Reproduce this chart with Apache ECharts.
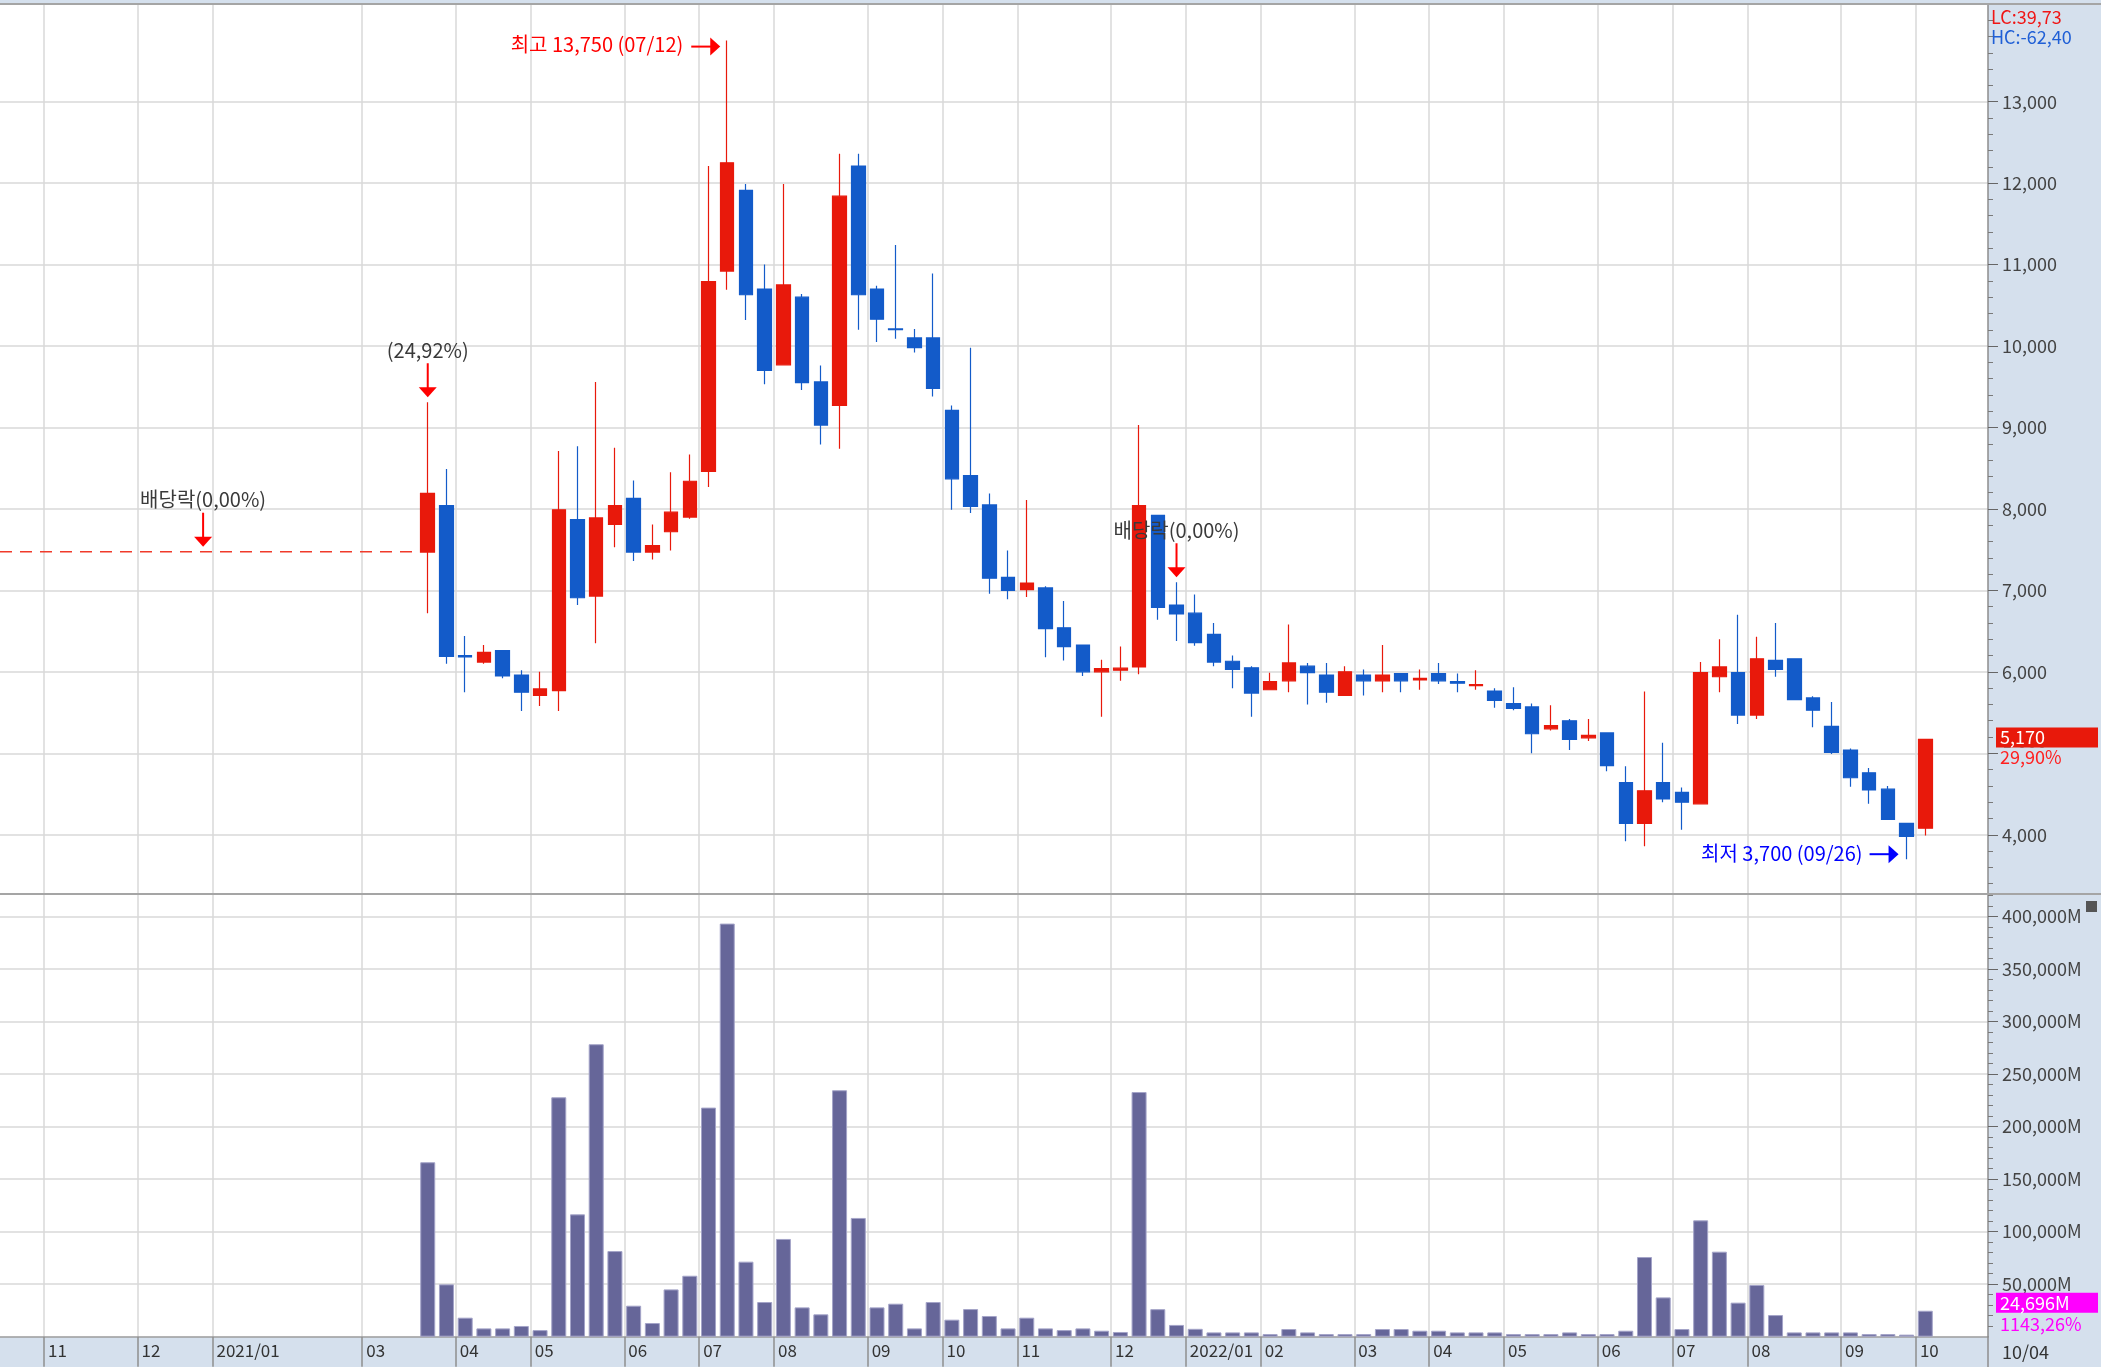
<!DOCTYPE html>
<html><head><meta charset="utf-8">
<script src="https://cdn.jsdelivr.net/npm/echarts@6/dist/echarts.min.js"></script>
<style>html,body{margin:0;padding:0;background:#d5e0ed;overflow:hidden}#c{width:2101px;height:1367px}</style>
</head><body><div id="c"></div>
<script>
// ---------- DATA (weekly candles; week index counted from Monday 2020-11-02) ----------
const firstWeek = 20;               // 2021-03-22
const opens  = [7470,8040,6200,6120,6260,5960,5710,5770,7870,6930,7810,8130,7470,7720,7900,8460,10920,11910,10700,9770,10600,9560,9270,12210,10700,10210,10100,10100,9210,8410,8050,7160,7010,7030,6540,6330,6000,6020,6060,7920,6820,6720,6460,6130,6050,5780,5890,6070,5960,5710,5960,5890,5980,5900,5980,5880,5830,5765,5610,5570,5300,5400,5190,5250,4640,4140,4640,4520,4380,5940,5990,5470,6140,6160,5680,5330,5040,4760,4560,4140,4080];
const closes = [8190,6190,6185,6240,5950,5750,5790,7990,6910,7890,8040,7470,7550,7960,8340,10790,12250,10630,9700,10750,9550,9030,11840,10630,10330,10200,9980,9480,8370,8030,7150,7000,7090,6530,6310,6000,6040,6045,8040,6790,6710,6360,6120,6030,5740,5880,6110,5990,5750,6000,5890,5960,5890,5920,5890,5860,5845,5650,5550,5240,5340,5170,5220,4850,4140,4540,4440,4400,5990,6060,5470,6160,6030,5660,5530,5010,4700,4550,4190,3980,5170];
const lows   = [6720,6100,5750,6100,5920,5520,5580,5520,6820,6350,7530,7360,7380,7490,7880,8270,10690,10320,9530,9770,9460,8790,8740,10200,10050,10090,9920,9380,7990,7950,6960,6890,6920,6180,6140,5950,5450,5890,5970,6640,6380,6320,6070,5800,5450,5780,5750,5600,5620,5710,5710,5750,5750,5780,5850,5750,5780,5560,5530,5000,5280,5040,5150,4780,3920,3860,4400,4060,4380,5750,5360,5420,5940,5660,5320,4990,4590,4380,4190,3700,3990];
const highs  = [9310,8490,6440,6330,6260,6020,6000,8710,8770,9560,8750,8350,7810,8450,8670,12210,13750,11990,11000,11990,10640,9760,12360,12360,10740,11240,10210,10890,9270,9980,8190,7490,8110,7050,6870,6330,6150,6310,9030,7930,7100,6950,6600,6200,6070,5990,6580,6110,6110,6070,6030,6330,5980,6030,6110,5980,6020,5800,5810,5610,5590,5420,5420,5250,4840,5760,5130,4580,6120,6400,6700,6430,6600,6160,5700,5630,5060,4820,4600,4140,5170];
const volumes = [166000,49800,18100,7900,7900,10200,6300,227800,116400,278300,81500,29500,13000,45000,58000,218000,393100,71400,33000,93000,27900,21300,234500,113000,27900,31400,7900,33000,16200,26300,19700,7900,18100,7900,6300,7900,5700,4500,232800,26200,11200,7500,4100,4100,4100,2500,7300,4100,2500,2500,2500,7300,7300,5700,5700,4100,4100,4100,2500,2500,2500,4100,2500,2500,5700,75800,37400,7300,110700,80900,32400,49200,20600,4100,4100,4100,4100,2500,2500,1986,24696];

// x-axis: month starts (week index) and their labels
const monthStartWeeks = [0,5,9,17,22,26,31,35,39,44,48,52,57,61,65,70,74,78,83,87,91,96,100];
const monthLabels     = ['11','12','2021/01','03','04','05','06','07','08','09','10','11','12','2022/01','02','03','04','05','06','07','08','09','10'];
const priceTicks  = [4000,5000,6000,7000,8000,9000,10000,11000,12000,13000];
const volumeTicks = [50000,100000,150000,200000,250000,300000,350000,400000];

// annotations (texts as shown)
const exDividendMarks = [{week:8, price:7475, text:'배당락(0,00%)'}, {week:60, text:'배당락(0,00%)'}];
const listingMark = {week:20, text:'(24,92%)'};
const statTexts = {lc:'LC:39,73', hc:'HC:-62,40', lastPct:'29,90%', volPct:'1143,26%', lastDate:'10/04'};

// ---------- LAYOUT / STYLE ----------
const X_MIN = -2.85, X_MAX = 103.35;
const P_MIN = 3285, P_MAX = 14187;
const V_MIN = 0, V_MAX = 420300;
const FONT = '"Noto Sans CJK KR","Noto Sans",sans-serif';
const RED = '#e8190b', BLUE = '#135bc9', GRIDC = '#d9d9d9', PANEL = '#d5e0ed';

const monthTicks = monthStartWeeks.map(w => w - 0.5);
const priceMinor = []; for (let v = 3400; v <= 14000; v += 200) priceMinor.push(v);
const volMinor = []; for (let v = 10000; v <= 420000; v += 10000) volMinor.push(v);
const fmt = v => Math.round(v).toLocaleString('en-US');
function monthLabel(v){ const i = monthTicks.findIndex(t => Math.abs(t - v) < 1e-6); return i >= 0 ? monthLabels[i] : ''; }

function xAxis(gridIndex, show){
  return {type:'value', gridIndex, min:X_MIN, max:X_MAX,
    axisLine:{show, onZero:false, lineStyle:{color:'#9d9d9d', width:1.5}},
    axisTick:{show, customValues:monthTicks, length:30, lineStyle:{color:'#8e8e8e', width:1.5}},
    axisLabel:{show, customValues:monthTicks, formatter:monthLabel, align:'left', padding:[0,0,0,4], margin:5,
      fontSize:17, color:'#333', fontFamily:FONT},
    splitLine:{show:true, lineStyle:{color:GRIDC, width:1.5}}};
}
function yAxesFor(gridIndex, min, max, majors, minors, labelFmt){
  return [
    {type:'value', gridIndex, position:'right', min, max,
      axisLine:{show:true, onZero:false, lineStyle:{color:'#8c8c8c', width:1.5}},
      axisTick:{show:true, customValues:minors, length:5, lineStyle:{color:'#7a7a7a', width:1}},
      axisLabel:{show:true, customValues:majors, formatter:labelFmt, margin:14, fontSize:18, color:'#444', fontFamily:FONT},
      splitLine:{show:false}},
    {type:'value', gridIndex, position:'left', offset:-1988, min, max,
      axisLine:{show:false, onZero:false},
      axisTick:{show:true, inside:true, customValues:majors, length:10, lineStyle:{color:'#666', width:1}},
      axisLabel:{show:false},
      splitLine:{show:true, lineStyle:{color:GRIDC, width:1.5}}}
  ];
}

const candleData = opens.map((o,i) => [firstWeek + i, o, closes[i], lows[i], highs[i]]);
const volData = volumes.map((v,i) => [firstWeek + i, v]);

const option = {
  animation:false,
  backgroundColor:PANEL,
  grid:[
    {left:0, right:113, top:5, height:888, show:true, backgroundColor:'#ffffff', borderWidth:0, outerBoundsMode:'none'},
    {left:0, right:113, top:895, height:441.7, show:true, backgroundColor:'#ffffff', borderWidth:0, outerBoundsMode:'none'}
  ],
  xAxis:[xAxis(0,false), xAxis(1,true)],
  yAxis:[
    ...yAxesFor(0, P_MIN, P_MAX, priceTicks, priceMinor, v => fmt(v)),
    ...yAxesFor(1, V_MIN, V_MAX, volumeTicks, volMinor, v => fmt(v) + 'M')
  ],
  series:[
    {type:'candlestick', xAxisIndex:0, yAxisIndex:0, data:candleData, encode:{x:0, y:[1,2,3,4]},
      barWidth:14,
      itemStyle:{color:RED, color0:BLUE, borderColor:RED, borderColor0:BLUE, borderWidth:1.2}},
    {type:'bar', xAxisIndex:1, yAxisIndex:2, data:volData, barWidth:15,
      itemStyle:{color:'#666699', borderColor:'#a4a4c8', borderWidth:1}}
  ]
};

const chart = echarts.init(document.getElementById('c'), null, {renderer:'canvas'});
chart.setOption(option);

// ---------- overlay annotations positioned through the chart's own scales ----------
const P = (w,p) => chart.convertToPixel({xAxisIndex:0, yAxisIndex:0}, [w,p]);
const V = (w,v) => chart.convertToPixel({xAxisIndex:1, yAxisIndex:2}, [w,v]);
const BASE = Date.UTC(2020,10,2);
function mmdd(w){ const d = new Date(BASE + w*7*86400000); return String(d.getUTCMonth()+1).padStart(2,'0') + '/' + String(d.getUTCDate()).padStart(2,'0'); }
function txt(x,y,text,fill,align,size){ return {type:'text', x, y, z:50, style:{text, fill, font:(size||20)+'px '+FONT, textAlign:align||'center', textVerticalAlign:'middle', align:align||'center', verticalAlign:'middle'}}; }
function downArrow(x,tip,color){ return [
  {type:'line', z:50, shape:{x1:x, y1:tip-34, x2:x, y2:tip-9}, style:{stroke:color, lineWidth:2}},
  {type:'polygon', z:50, shape:{points:[[x-9,tip-10],[x+9,tip-10],[x,tip]]}, style:{fill:color}}]; }
function rightArrow(tipX,y,color){ return [
  {type:'line', z:50, shape:{x1:tipX-29, y1:y, x2:tipX-9, y2:y}, style:{stroke:color, lineWidth:2}},
  {type:'polygon', z:50, shape:{points:[[tipX-10,y-9],[tipX-10,y+9],[tipX,y]]}, style:{fill:color}}]; }

const g = [];
const gridRight = P(X_MAX, P_MIN)[0];
const idx = w => w - firstWeek;

// top border and panel separators
g.push({type:'line', z:40, shape:{x1:0, y1:4, x2:2101, y2:4}, style:{stroke:'#a5a5a5', lineWidth:2}});
g.push({type:'line', z:40, shape:{x1:0, y1:894, x2:2101, y2:894}, style:{stroke:'#a5a5a5', lineWidth:2}});
g.push({type:'line', z:40, shape:{x1:gridRight, y1:1336, x2:gridRight, y2:1367}, style:{stroke:'#8e8e8e', lineWidth:1.5}});

// ex-dividend dashed line before listing, and markers
const ex0 = exDividendMarks[0];
const exY = P(0, ex0.price)[1];
const firstX = P(firstWeek, ex0.price)[0];
g.push({type:'line', z:45, shape:{x1:0, y1:exY, x2:firstX-8, y2:exY}, style:{stroke:'#f03a2a', lineWidth:1.5, lineDash:[12,8]}});
{
  const [x] = P(ex0.week, ex0.price); const tip = exY - 5;
  g.push(...downArrow(x, tip, '#ff0000'), txt(x, tip-47, ex0.text, '#3a3a3a'));
}
{
  const m = exDividendMarks[1]; const [x,y] = P(m.week, highs[idx(m.week)]); const tip = y - 5;
  g.push(...downArrow(x, tip, '#ff0000'), txt(x, tip-47, m.text, '#3a3a3a'));
}
{
  const [x,y] = P(listingMark.week, highs[idx(listingMark.week)]); const tip = y - 5;
  g.push(...downArrow(x, tip, '#ff0000'), txt(x, tip-47, listingMark.text, '#3a3a3a'));
}
// highest / lowest
{
  const hi = Math.max(...highs), hiI = highs.indexOf(hi), hw = firstWeek + hiI;
  const [x,y] = P(hw, hi); const ay = y + 6, tipX = x - 7;
  g.push(...rightArrow(tipX, ay, '#ff0000'), txt(tipX-37, ay-2, '최고 ' + fmt(hi) + ' (' + mmdd(hw) + ')', '#ff0000', 'right'));
  const lo = Math.min(...lows), loI = lows.indexOf(lo), lw = firstWeek + loI;
  const [x2,y2] = P(lw, lo); const by = y2 - 5, tip2 = x2 - 8;
  g.push(...rightArrow(tip2, by, '#0000ff'), txt(tip2-36, by-1, '최저 ' + fmt(lo) + ' (' + mmdd(lw) + ')', '#0000ff', 'right'));
}
// right panel: LC/HC, last price box, last volume box, last date
g.push(txt(gridRight+3, 17, statTexts.lc, '#f01515', 'left', 18));
g.push(txt(gridRight+3, 37, statTexts.hc, '#1f5fd6', 'left', 18));
{
  const last = closes.length - 1; const yp = P(firstWeek+last, closes[last])[1];
  g.push({type:'rect', z:44, shape:{x:gridRight+11, y:yp+8, width:2101-gridRight-11, height:21}, style:{fill:PANEL}});
  g.push({type:'rect', z:45, shape:{x:gridRight+8, y:yp-12, width:102, height:20}, style:{fill:RED}});
  g.push(txt(gridRight+12, yp-2, fmt(closes[last]), '#ffffff', 'left', 18));
  g.push(txt(gridRight+12, yp+18, statTexts.lastPct, '#ff2020', 'left', 18));
  const yv = V(firstWeek+last, volumes[last])[1];
  g.push({type:'rect', z:45, shape:{x:gridRight+8, y:yv-18, width:102, height:20}, style:{fill:'#ff00ff'}});
  g.push(txt(gridRight+12, yv-8, fmt(volumes[last]) + 'M', '#ffffff', 'left', 18));
  g.push(txt(gridRight+12, yv+13, statTexts.volPct, '#ff00ff', 'left', 18));
}
g.push({type:'rect', z:45, shape:{x:2086, y:901, width:11, height:11}, style:{fill:'#555'}});
g.push(txt(gridRight+14, 1352, statTexts.lastDate, '#333', 'left', 18));

chart.setOption({graphic:{elements:g}});
</script>
</body></html>
